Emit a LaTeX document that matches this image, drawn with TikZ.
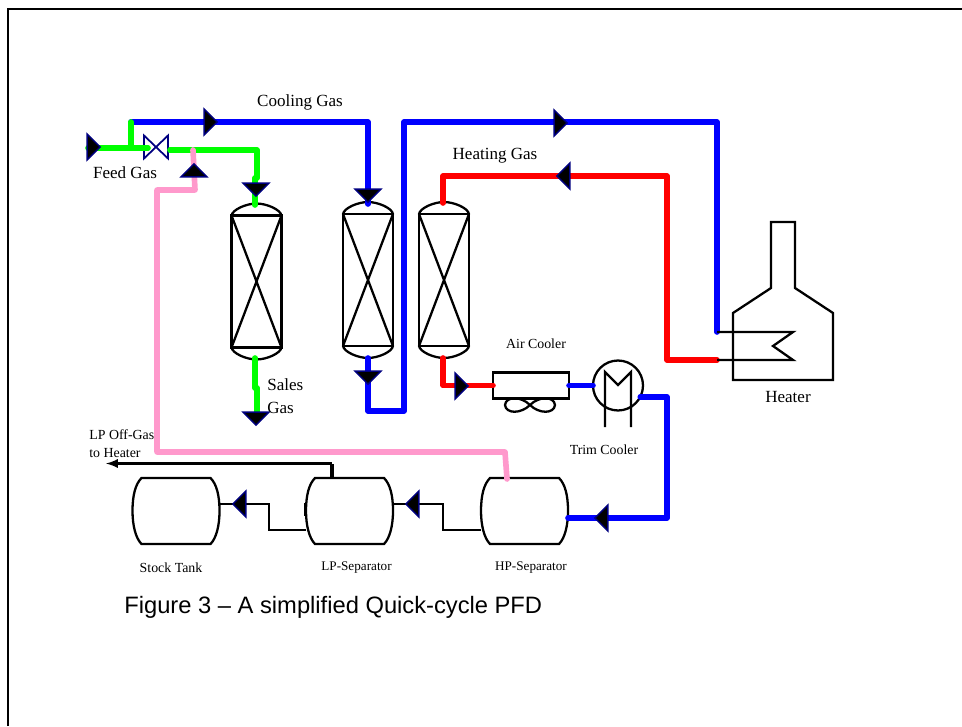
\documentclass[tikz,border=0pt]{standalone}
\usepackage{fontspec}
\setmainfont{Liberation Serif}
\newfontfamily\capfont{Liberation Sans}
\usetikzlibrary{shapes.geometric,positioning}
\definecolor{markblue}{RGB}{0,0,128}
\definecolor{pipegreen}{RGB}{0,255,0}
\definecolor{pipeblue}{RGB}{0,0,255}
\definecolor{pipered}{RGB}{255,0,0}
\definecolor{pipepink}{RGB}{255,153,204}
\tikzset
{
    thinline/.style = {draw=black, line width=1.3pt},
    pipe/.style = {line width=3.2pt, line cap=round, line join=round},
    greenpipe/.style = {pipe, draw=pipegreen},
    bluepipe/.style = {pipe, draw=pipeblue},
    redpipe/.style = {pipe, draw=pipered},
    pinkpipe/.style = {pipe, draw=pipepink},
    columnbox/.style = {rectangle, thinline, outer sep=0pt, minimum width=1cm, minimum height=2.64cm},
    tankbox/.style = {rectangle, outer sep=0pt, inner sep=0pt, minimum width=1.74cm, minimum height=1.32cm},
    flowmark/.style = {isosceles triangle, isosceles triangle stretches, draw=markblue, fill=black, line width=0.8pt, inner sep=0pt, minimum height=0.26cm, minimum width=0.52cm, anchor=apex},
    markright/.style = {flowmark, shape border rotate=0},
    markleft/.style = {flowmark, shape border rotate=180},
    markup/.style = {flowmark, shape border rotate=90},
    markdown/.style = {flowmark, shape border rotate=270},
    biglabel/.style = {inner sep=0pt, font=\fontsize{9.7pt}{11pt}\selectfont},
    smalllabel/.style = {inner sep=0pt, font=\fontsize{7.9pt}{10pt}\selectfont},
    seplabel/.style = {inner sep=0pt, font=\fontsize{7.5pt}{10pt}\selectfont}
}

\begin{document}
\begin{tikzpicture}[x=0.02cm, y=-0.02cm]
	\useasboundingbox (0,0) rectangle (962,726);
	\draw[line width=1.3pt] (8,726) -- (8,9) -- (962,9);

	% vessels
	\node[columnbox] (col1) at (256.5,281.5) {};
	\node[columnbox] (col2) at (368,280) {};
	\node[columnbox] (col3) at (444,280) {};
	\foreach \n in {col1,col2,col3}
	{
		\draw[thinline] (\n.north west) -- (\n.south east) (\n.north east) -- (\n.south west);
		\draw[thinline] (\n.north west) .. controls +(1,-6) and +(-10,0) .. ++(25,-12) .. controls +(10,0) and +(-1,-6) .. (\n.north east);
		\draw[thinline] (\n.south west) .. controls +(1,6) and +(-10,0) .. ++(25,12) .. controls +(10,0) and +(-1,6) .. (\n.south east);
	}
	\node[tankbox] (tank) at (176,511) {};
	\node[tankbox] (lpsep) at (349.5,511) {};
	\node[tankbox] (hpsep) at (524.5,511) {};
	\foreach \n in {tank,lpsep,hpsep}
	{
		\draw[thinline] (\n.north west) ++(9,0) -- ++(69,0) .. controls +(6,6) and +(0,-16) .. ++(9,33) .. controls +(0,14) and +(6,-6) .. ++(-9,33) -- ++(-69,0) .. controls +(-6,-6) and +(0,14) .. ++(-9,-33) .. controls +(0,-16) and +(-6,6) .. ++(9,-33) -- cycle;
	}
	\node[rectangle, thinline, outer sep=0pt, minimum width=1.52cm, minimum height=0.52cm] (air) at (531,385.5) {};
	\coordinate (fanhub) at (530,405);
	\draw[thinline] (fanhub) .. controls (521,396) and (506,396) .. (505,405) .. controls (506,414) and (521,414) .. (fanhub) .. controls (539,396) and (554,396) .. (555,405) .. controls (554,414) and (539,414) .. (fanhub);
	\node[circle, thinline, outer sep=0pt, minimum size=1cm] (trim) at (618,385.5) {};
	\draw[thinline] (605,427) -- (605,372) -- (618,385) -- (631,372) -- (631,427);
	\node[rectangle, outer sep=0pt, minimum width=0.48cm, minimum height=0.46cm] (valve) at (156,147) {};
	\draw[draw=markblue, line width=1pt] (valve.north west) -- (valve.south east) -- (valve.north east) -- (valve.south west) -- cycle;
	\draw[thinline, line join=miter] (771,288) -- (771,222) -- (795,222) -- (795,288) -- (833,313) -- (833,380) -- (733,380) -- (733,313) -- cycle;

	% pipe ends and corners
	\coordinate (feedin) at (88,148);
	\coordinate (feedtee) at (131,148);
	\coordinate (valvein) at (148,148);
	\coordinate (valveout) at (170,150);
	\coordinate (coolstart) at (131,122);
	\coordinate (greenturn) at (257,178);
	\coordinate (greenjog) at (255,178);
	\coordinate (col1top) at (255,205);
	\coordinate (col1bot) at (255,358);
	\coordinate (salesjoga) at (255,388);
	\coordinate (salesjogb) at (257,388);
	\coordinate (salesend) at (257,412);
	\coordinate (col2top) at (368,204);
	\coordinate (col2bot) at (368,358);
	\coordinate (riserfoot) at (404,411);
	\coordinate (risertop) at (404,122);
	\coordinate (coilin) at (717,332);
	\coordinate (coilout) at (717,360);
	\coordinate (col3top) at (443,203);
	\coordinate (col3bot) at (443,358);
	\coordinate (redturn) at (667,176);
	\coordinate (trimfoot) at (667,518);
	\coordinate (hpin) at (568,518);
	\coordinate (pinktop) at (193,150);
	\coordinate (pinkelbow) at (195,190);
	\coordinate (pinkcorner) at (157,190);
	\coordinate (pinkfoot) at (157,452);
	\coordinate (pinkend) at (505,452);
	\coordinate (hptop) at (507,479);
	\coordinate (hpout) at (481,530);
	\coordinate (lptie) at (443,504);
	\coordinate (lpin) at (393,504);
	\coordinate (lpout) at (306,530);
	\coordinate (tanktie) at (269,504);
	\coordinate (tankin) at (219,504);
	\coordinate (ventfoot) at (332,478);
	\coordinate (venttop) at (332,463.5);
	\coordinate (offgas) at (106,463.5);

	% pipes
	\draw[bluepipe] (coolstart) -| (col2top);
	\draw[greenpipe] (feedin) -- (valvein);
	\draw[greenpipe] (feedtee) -- (coolstart);
	\draw[greenpipe] (valveout) -| (greenturn) -- (greenjog) -- (col1top);
	\draw[greenpipe] (col1bot) -- (salesjoga) -- (salesjogb) -- (salesend);
	\draw[pinkpipe] (pinktop) -- (pinkelbow) -- (pinkcorner) -- (pinkfoot) -- (pinkend) -- (hptop);
	\draw[bluepipe] (col2bot) |- (riserfoot) -- (risertop) -| (coilin);
	\draw[redpipe] (col3top) |- (redturn) |- (coilout);
	\draw[redpipe] (col3bot) |- (air.west);
	\draw[bluepipe] (air.east) -- (trim.west);
	\draw[bluepipe] (trim.-27) -| (trimfoot) -- (hpin);

	% heater coil and black lines
	\draw[thinline] (coilin) -- (793,332) -- (773,346) -- (793,360) -- (coilout);
	\draw[thinline] (hpout) -| (lptie) -- (lpin);
	\draw[thinline] (lpout) -| (tanktie) -- (tankin);
	\draw[line width=2.3pt] (ventfoot) -- (venttop);
	\draw[thinline, -latex] (venttop) -- (offgas);
	\draw[line width=1.5pt] (305,503) -- (305,516);

	% flow marks
	\node[markright] (feedmark) at (102,147) {};
	\node[markright] (coolmark) at (219,122) {};
	\node[markright] (hotmark) at (569,123) {};
	\node[markleft] (heatmark) at (555,176) {};
	\node[markup] (pinkmark) at (194,162) {};
	\node[markdown] (col1mark) at (256,198) {};
	\node[markdown] (col2mark) at (368,204) {};
	\node[markdown] (col2outmark) at (368,386) {};
	\node[markdown] (salesmark) at (256,427) {};
	\node[markright] (col3outmark) at (470,386) {};
	\node[markleft] (hpmark) at (593,518) {};
	\node[markleft] (lpmark) at (404,504) {};
	\node[markleft] (tankmark) at (231,504) {};

	% labels
	\node[biglabel] (coolinggas) at (300,102) {Cooling Gas};
	\node[biglabel] (heatinggas) at (495,156) {Heating Gas};
	\node[biglabel] (feedgas) at (125,173) {Feed Gas};
	\node[biglabel, anchor=west] (salesa) at (267,385) {Sales};
	\node[biglabel, anchor=west] (salesb) at (267,408) {Gas};
	\node[biglabel] (heaterlabel) at (788,397) {Heater};
	\node[smalllabel] (airlabel) at (536,344) {Air Cooler};
	\node[smalllabel] (trimlabel) at (604,450) {Trim Cooler};
	\node[smalllabel, anchor=west] (offa) at (89,435) {LP Off-Gas};
	\node[smalllabel, anchor=west] (offb) at (89,453) {to Heater};
	\node[smalllabel] (tanklabel) at (171,568) {Stock Tank};
	\node[seplabel] (lplabel) at (356.5,568) {LP-Separator};
	\node[seplabel] (hplabel) at (531,568) {HP-Separator};
	\node[inner sep=0pt, anchor=west, font=\capfont\fontsize{13.5pt}{15pt}\selectfont] (caption) at (124,607) {Figure 3 – A simplified Quick-cycle PFD};
\end{tikzpicture}
\end{document}
